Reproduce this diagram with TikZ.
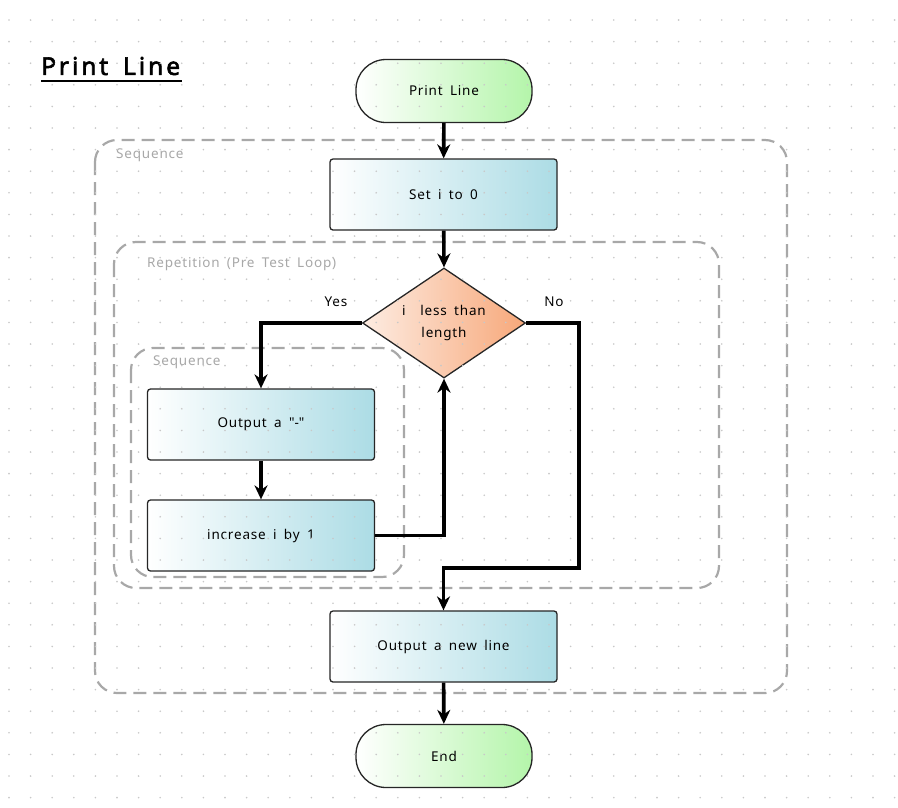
\documentclass[tikz,border=0pt]{standalone}
\usepackage{fontspec}
\setmainfont{Noto Sans}[LetterSpace=6, WordSpace=1.7]
\newfontfamily\titlefont{Noto Sans}[LetterSpace=12, WordSpace=1.6, FakeBold=2.5]
\usetikzlibrary{shapes.geometric,arrows.meta}
\definecolor{boxblue}{RGB}{172,220,229}
\definecolor{boxgreen}{RGB}{180,245,170}
\definecolor{boxorange}{RGB}{247,168,122}
\definecolor{boxorangel}{RGB}{253,236,226}
\definecolor{dashgray}{RGB}{168,168,168}
\definecolor{dotgray}{RGB}{200,200,200}
\tikzset{
  procbox/.style={rectangle, rounded corners=3pt, draw=black!85, line width=1.3pt,
    left color=white, right color=boxblue, minimum width=227pt, minimum height=71pt,
    inner sep=0pt, font=\fontsize{13.5}{16}\selectfont},
  termbox/.style={rectangle, rounded corners=30pt, draw=black!85, line width=1.3pt,
    left color=white, right color=boxgreen, minimum width=176pt, minimum height=63pt,
    inner sep=0pt, font=\fontsize{13.5}{16}\selectfont},
  decbox/.style={diamond, aspect=1.48, draw=black!85, line width=1.3pt,
    left color=boxorangel, right color=boxorange, minimum width=163pt, minimum height=110pt,
    inner sep=0pt, align=center, font=\fontsize{13.5}{22}\selectfont},
  groupbox/.style={draw=dashgray, line width=2.2pt, dash pattern=on 13pt off 7pt, rounded corners=22pt},
  grouplabel/.style={text=dashgray, anchor=west, inner sep=0pt, font=\fontsize{13.5}{16}\selectfont},
  flow/.style={line width=3.6pt, black, -{Stealth[length=14pt,width=13pt]}},
  flowlabel/.style={inner sep=0pt, font=\fontsize{13.5}{16}\selectfont},
}
\begin{document}
\begin{tikzpicture}[x=1pt,y=-1pt]
\useasboundingbox[fill=white] (0,0) rectangle (898,807);
% group boxes
\draw[groupbox] (95,140) rectangle (787,693);
\draw[groupbox] (114,242) rectangle (719,588);
\draw[groupbox] (131,348) rectangle (404,577);
\node[grouplabel] (lseq1) at (116,155) {Sequence};
\node[grouplabel] (lrep) at (147,264) {Repetition (Pre Test Loop)};
\node[grouplabel] (lseq2) at (153,362) {Sequence};
% title
\node[anchor=west, inner sep=0pt, font=\titlefont\fontsize{24.5}{28}\selectfont] (title) at (41,66) {Print Line};
\draw[line width=2.5pt] (41,81) -- (182,81);
% nodes
\node[termbox] (start) at (444,91) {Print Line};
\node[procbox] (seti) at (443.5,194.5) {Set i to 0};
\node[decbox] (dia) at (444,323) {i\ \ less than\\length};
\node[procbox] (outd) at (261,424.5) {Output a \textquotedbl-\textquotedbl};
\node[procbox] (inc) at (261,535.5) {increase i by 1};
\node[procbox] (outnl) at (443.5,646.5) {Output a new line};
\node[termbox] (end) at (444,756) {End};
\coordinate (nocorner) at (579,568);
% labels
\node[flowlabel] (yes) at (336,302) {Yes};
\node[flowlabel] (no) at (554,302) {No};
% dots
\foreach \i in {0,...,41}{
  \foreach \j in {0,...,36}{
    \fill[dotgray] (9+21.6*\i, 20+21.6*\j) circle (0.9pt);
  }
}
% connectors
\draw[flow] (start) -- (seti);
\draw[flow] (seti) -- (dia.north);
\draw[flow] (dia.west) -| (outd.north);
\draw[flow] (outd) -- (inc);
\draw[flow] (inc.east) -| (dia.south);
\draw[flow] (dia.east) -| (nocorner) -| (outnl.north);
\draw[flow] (outnl) -- (end);
\end{tikzpicture}
\end{document}
